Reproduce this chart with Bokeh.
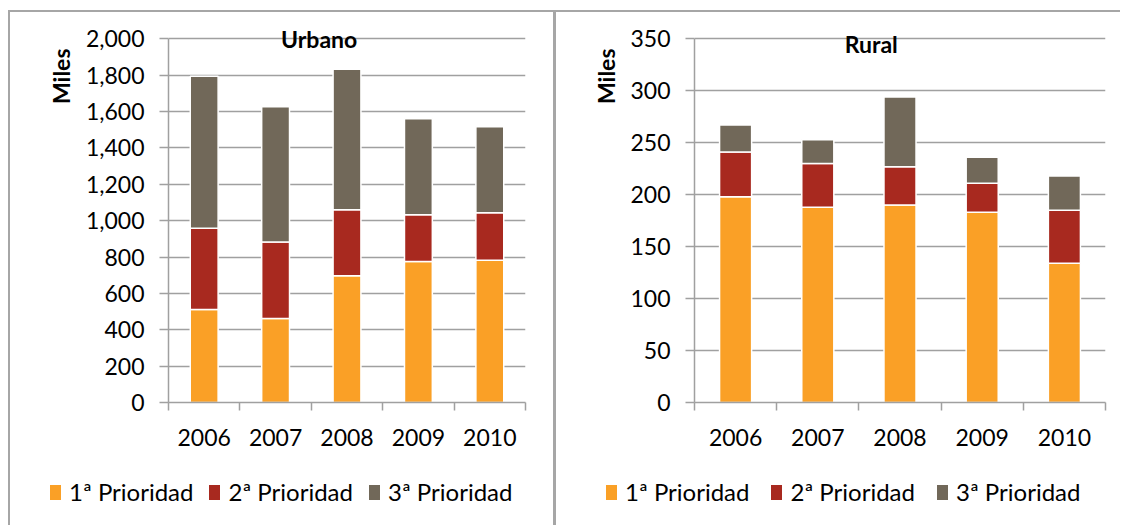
from bokeh.plotting import figure
from bokeh.models import (Range1d, FixedTicker, SingleIntervalTicker, Div,
                          NumeralTickFormatter, Title, Label, ColumnDataSource)
from bokeh.layouts import row, column
from bokeh.embed import file_html
from bokeh.resources import INLINE

years = ["2006", "2007", "2008", "2009", "2010"]
series = ["1ª Prioridad", "2ª Prioridad", "3ª Prioridad"]
colors = ["#FAA026", "#A8291F", "#716859"]

urbano_p1 = [512, 462, 697, 776, 782]
urbano_p2 = [446, 421, 363, 257, 262]
urbano_p3 = [836, 744, 773, 528, 472]

rural_p1 = [198, 188, 190, 183, 134]
rural_p2 = [43, 42, 37, 28, 51]
rural_p3 = [26, 23, 67, 25, 33]

FONT = "Lato"
GRAY = "#A0A0A0"


def legend_html(pad_left, spacing):
    parts = []
    for i, (s, c) in enumerate(zip(series, colors)):
        gap = spacing if i < len(series) - 1 else 0
        parts.append(
            f'<span style="display:inline-block;width:11px;height:15px;'
            f'background:{c};margin-right:8px;flex:none"></span>'
            f'<span style="margin-right:{gap}px">{s}</span>')
    return (f'<div style="display:flex;align-items:center;height:54px;'
            f'padding-left:{pad_left}px;font-family:{FONT};font-size:24px;'
            f'color:black;white-space:nowrap">' + "".join(parts) + '</div>')


def panel(title, p1, p2, p3, ymax, ystep, width, min_left, min_right,
          legend_x, legend_spacing, title_x, title_y, shadow, margin):
    n = len(years)
    centers = [i + 0.5 for i in range(n)]  # category slots on a 0..n axis
    src = ColumnDataSource(dict(x=centers, s1=p1, s2=p2, s3=p3))
    p = figure(x_range=Range1d(0, n), y_range=Range1d(0, ymax * 1.045),
               width=width, height=455,
               output_backend="svg", toolbar_location=None,
               min_border_left=min_left, min_border_right=min_right,
               min_border_top=12, min_border_bottom=63,
               border_fill_color=None, outline_line_color=None)

    p.vbar_stack(["s1", "s2", "s3"], x="x", width=0.39, source=src,
                 fill_color=colors, line_color="white", line_width=1.5)

    # y axis
    ya = p.yaxis[0]
    ya.ticker = SingleIntervalTicker(interval=ystep)
    ya.formatter = NumeralTickFormatter(format="0,0")
    ya.bounds = (0, ymax)
    ya.major_tick_out = 9
    ya.major_tick_in = 0
    ya.minor_tick_line_color = None
    ya.axis_line_color = GRAY
    ya.axis_line_width = 1.5
    ya.major_tick_line_color = GRAY
    ya.major_tick_line_width = 1.5
    ya.major_label_text_font = FONT
    ya.major_label_text_font_size = "23px"
    ya.major_label_text_color = "black"
    ya.major_label_standoff = 15

    p.xgrid.visible = False
    p.ygrid.grid_line_color = GRAY
    p.ygrid.grid_line_width = 1.5

    # x axis: labels at category centres, ticks at category boundaries
    xa = p.xaxis[0]
    xa.ticker = FixedTicker(ticks=centers, minor_ticks=list(range(n + 1)))
    xa.major_label_overrides = {c: y for c, y in zip(centers, years)}
    xa.major_tick_line_color = None
    xa.major_tick_out = 0
    xa.major_tick_in = 0
    xa.minor_tick_out = 8
    xa.minor_tick_in = 0
    xa.minor_tick_line_color = GRAY
    xa.minor_tick_line_width = 1.5
    xa.axis_line_color = GRAY
    xa.axis_line_width = 1.5
    xa.major_label_text_font = FONT
    xa.major_label_text_font_size = "23px"
    xa.major_label_text_color = "black"
    xa.major_label_standoff = 18

    p.add_layout(Title(text="Miles", align="right", offset=26, standoff=16,
                       text_font=FONT, text_font_style="bold", text_font_size="23px",
                       text_color="black"), "left")
    p.add_layout(Label(x=title_x, y=title_y, text=title,
                       text_font=FONT, text_font_style="bold", text_font_size="23px",
                       text_align="center", text_baseline="middle", text_color="black"))

    leg = Div(text=legend_html(legend_x, legend_spacing), width=width, height=60,
              margin=0)

    return column(p, leg, styles={"box-shadow": shadow}, margin=margin)


left = panel("Urbano", urbano_p1, urbano_p2, urbano_p3, 2000, 200, 546, 160, 29,
             42, 16, 2.11, 2000,
             "inset 2px 0 0 #A6A6A6, inset 0 2px 0 #A6A6A6, inset -1px 0 0 #A6A6A6",
             (10, 0, 0, 8))
right = panel("Rural", rural_p1, rural_p2, rural_p3, 350, 50, 566, 140, 15,
              52, 22, 2.15, 345,
              "inset 2px 0 0 #A6A6A6, inset 0 2px 0 #A6A6A6",
              (10, 0, 0, 0))

layout = row(left, right)
open("out.html", "w").write(file_html(layout, INLINE))
